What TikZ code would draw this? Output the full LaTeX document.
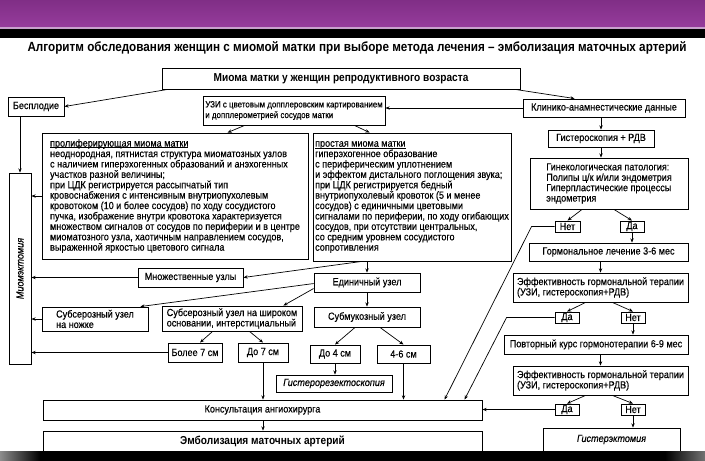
\documentclass[tikz,border=0pt]{standalone}
\usepackage{fontspec}
\setmainfont{Liberation Sans}[FakeStretch=0.88,UprightFeatures={FakeBold=0.35},ItalicFeatures={FakeBold=0.35}]
\usetikzlibrary{arrows.meta,calc}
\definecolor{purpA}{RGB}{128,46,134}
\definecolor{purpB}{RGB}{150,60,156}
\definecolor{purpL}{RGB}{200,160,205}
\newcommand\fs{\fontsize{10.3}{10.4}\selectfont}
\newcommand\fu{\fontsize{9.0}{10.6}\selectfont}
\newcommand\fb{\fontsize{11.5}{12}\selectfont\bfseries}
\newcommand\ul[1]{{\setbox0\hbox{#1}\rlap{\rule[-1.3pt]{\wd0}{0.5pt}}\box0}}
\tikzset{
 box/.style={draw, line width=0.9pt, inner sep=0pt, font=\fs, align=center},
 arr/.style={-{Stealth[length=4.2pt,width=3.4pt]}, line width=0.7pt},
}
\newcommand\bx[7]{%
 \pgfmathsetmacro\bxw{#4-#2}\pgfmathsetmacro\bxh{#5-#3}%
 \pgfmathsetmacro\bxcx{(#2+#4)/2}\pgfmathsetmacro\bxcy{(#3+#5)/2}%
 \node[box,minimum width=\bxw pt,minimum height=\bxh pt,#6] (#1) at (\bxcx,\bxcy) {#7};}
\begin{document}
\begin{tikzpicture}[x=1pt,y=-1pt]
\useasboundingbox (0,0) rectangle (705,461);
\fill[white] (0,0) rectangle (705,461);
\shade[top color=purpA,bottom color=purpB] (0,0) rectangle (705,27);
\fill[purpL] (0,27) rectangle (705,28.5);
\fill[black] (0,28.5) rectangle (705,38);

\node[font=\fontsize{13.3}{14}\selectfont\bfseries] (title) at (357,48) {Алгоритм обследования женщин с миомой матки при выборе метода лечения – эмболизация маточных артерий};

% top row
\bx{top}{162}{68}{520}{89}{font=\fb}{Миома матки у женщин репродуктивного возраста}
\bx{bes}{8}{97}{64}{116}{}{Бесплодие}
\bx{uzi}{203}{96}{385}{125}{align=left,font=\fu}{УЗИ с цветовым допплеровским картированием\\и допплерометрией сосудов матки}
\bx{klin}{523}{99}{685}{117}{}{Клинико-анамнестические данные}

% right column
\bx{gist}{548}{130}{654}{147}{}{Гистероскопия + РДВ}
\bx{gin}{530}{158}{688}{209}{align=left}{Гинекологическая патология:\\Полипы ц/к и/или эндометрия\\Гиперпластические процессы\\эндометрия}
\bx{net1}{555}{221}{580}{232}{}{Нет}
\bx{da1}{620}{221}{644}{232}{}{Да}
\bx{horm}{529}{243}{688}{261}{}{Гормональное лечение 3-6 мес}
\bx{eff1}{513}{273}{688}{302}{align=left}{Эффективность гормональной терапии\\(УЗИ, гистероскопия+РДВ)}
\bx{da2}{555}{312}{579}{323}{}{Да}
\bx{net2}{621}{312}{645}{323}{}{Нет}
\bx{povt}{504}{335}{688}{354}{}{Повторный курс гормонотерапии 6-9 мес}
\bx{eff2}{513}{366}{688}{395}{align=left}{Эффективность гормональной терапии\\(УЗИ, гистероскопия+РДВ)}
\bx{da3}{555}{404}{579}{415}{}{Да}
\bx{net3}{621}{404}{645}{415}{}{Нет}
\bx{gyst}{543}{428}{680}{451}{font=\fs\itshape}{Гистерэктомия}

% left part
\bx{myo}{9}{173}{31}{364}{}{}
\node[rotate=90,font=\fs\itshape] (myot) at (myo) {Миомэктомия};
\bx{pro}{42}{133}{308}{259}{align=left}{\ul{пролиферирующая миома матки}\\
неоднородная, пятнистая структура миоматозных узлов\\
с наличием гиперэхогенных образований и анэхогенных\\
участков разной величины;\\
при ЦДК регистрируется рассыпчатый тип\\
кровоснабжения с интенсивным внутриопухолевым\\
кровотоком (10 и более сосудов) по ходу сосудистого\\
пучка, изображение внутри кровотока характеризуется\\
множеством сигналов от сосудов по периферии и в центре\\
миоматозного узла, хаотичным направлением сосудов,\\
выраженной яркостью цветового сигнала}
\bx{simp}{313}{133}{511}{261}{align=left}{\ul{простая миома матки}\\
гиперэхогенное образование\\
с периферическим уплотнением\\
и эффектом дистального поглощения звука;\\
при ЦДК регистрируется бедный\\
внутриопухолевый кровоток (5 и менее\\
сосудов) с единичными цветовыми\\
сигналами по периферии, по ходу огибающих\\
сосудов, при отсутствии центральных,\\
со средним уровнем сосудистого\\
сопротивления}
\bx{mult}{138}{268}{243}{287}{}{Множественные узлы}
\bx{single}{314}{273}{420}{292}{}{Единичный узел}
\bx{nozh}{42}{307}{148}{331}{align=left}{Субсерозный узел\\на ножке}
\bx{shir}{162}{306}{302}{331}{align=left}{Субсерозный узел на широком\\основании, интерстициальный}
\bx{subm}{314}{307}{420}{327}{}{Субмукозный узел}
\bx{bol7}{168}{343}{222}{362}{}{Более 7 см}
\bx{do7}{238}{343}{288}{362}{}{До 7 см}
\bx{do4}{310}{345}{360}{363}{}{До 4 см}
\bx{d46}{377}{345}{430}{363}{}{4-6 см}
\bx{rez}{276}{375}{392}{392}{font=\fs\itshape}{Гистерорезектоскопия}
\bx{kons}{43}{400}{482}{420}{}{Консультация ангиохирурга}
\bx{emb}{43}{431}{482}{451}{font=\fb}{Эмболизация маточных артерий}

% connectors, top
\draw[arr] ($(top.south west)+(6,0)$) -- (bes.east);
\draw[arr] ($(top.south east)+(-5,0)$) -- ($(klin.north west)+(52,0)$);
\draw[arr] (klin.west) -- (klin.west -| uzi.east);
\draw[arr] ($(uzi.south west)+(42,0)$) -- ($(pro.north west)+(186,0)$);
\draw[arr] ($(uzi.south west)+(152,0)$) -- ($(simp.north west)+(57,0)$);
% left
\draw[arr] (myo.north |- bes.south) -- (myo.north);
\draw[arr] (pro.west) -- (pro.west -| myo.east);
\draw[arr] (mult.west) -- (mult.west -| myo.east);
\draw[arr] (nozh.west) -- (nozh.west -| myo.east);
\draw[arr] (bol7.west) -- (bol7.west -| myo.east);
\draw[arr] ($(simp.south west)+(49,0)$) -- (mult.east);
\draw[arr] (single.north |- simp.south) -- (single.north);
\draw[arr] ($(single.north west)+(0,11)$) -- ($(nozh.north east)+(-8,0)$);
\draw[arr] ($(single.north west)+(0,16)$) -- ($(shir.north east)+(-19,0)$);
\draw[arr] (single.south) -- (subm.north);
\draw[arr] ($(shir.south west)+(51,0)$) -- ($(bol7.north)+(5,0)$);
\draw[arr] ($(shir.south west)+(88,0)$) -- (do7.north);
\draw[arr] ($(subm.south)+(-12,0)$) -- (do4.north);
\draw[arr] ($(subm.south)+(13,0)$) -- (d46.north);
\draw[arr] (do4.south) -- (do4.south |- rez.north);
\draw[arr] (do7.south) -- (do7.south |- kons.north);
\draw[arr] (d46.south) -- (d46.south |- kons.north);
\draw[arr] (kons.south -| do7.south) -- (emb.north -| do7.south);
% right
\draw[arr] (gist.north |- klin.south) -- (gist.north);
\draw[arr] (gist.south) -- (gist.south |- gin.north);
\draw[arr] ($(gin.south)+(-27,0)$) -- (net1.north);
\draw[arr] ($(gin.south)+(5,0)$) -- (da1.north);
\draw[arr] (da1.south) -- (da1.south |- horm.north);
\draw[arr] (eff1.north |- horm.south) -- (eff1.north);
\draw[arr] ($(eff1.south)+(-15,0)$) -- (da2.north);
\draw[arr] ($(eff1.south)+(12,0)$) -- (net2.north);
\draw[arr] (net2.south) -- (net2.south |- povt.north);
\draw[arr] (eff2.north |- povt.south) -- (eff2.north);
\draw[arr] ($(eff2.south)+(-15,0)$) -- (da3.north);
\draw[arr] ($(eff2.south)+(12,0)$) -- (net3.north);
\draw[arr] (net3.south) -- (net3.south |- gyst.north);
\draw[arr] (da3.west) -- (da3.west -| kons.east);
\draw[arr] (net1.west) -- ++(-23,0) -- ($(kons.north west)+(402,0)$);
\draw[arr] (da2.west) -- ++(-48,0) -- ($(kons.north west)+(422,0)$);

% bottom band
\fill[black] (0,451) rectangle (705,461);
\shade[left color=black!45,right color=black] (0,451) rectangle (40,461);
\shade[left color=black,right color=black!55] (665,451) rectangle (705,461);
\end{tikzpicture}
\end{document}
